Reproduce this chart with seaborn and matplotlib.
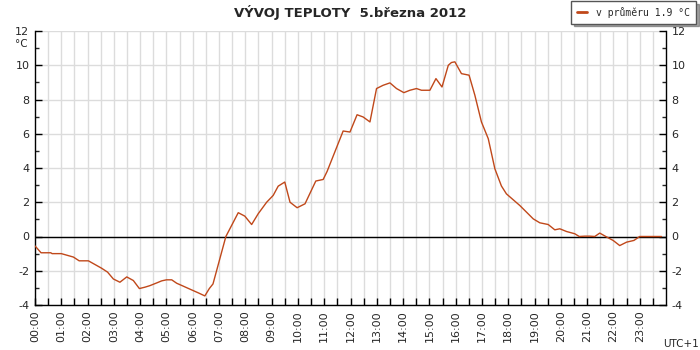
import numpy as np
import pandas as pd
import matplotlib
matplotlib.use("Agg")
import matplotlib.pyplot as plt
import seaborn as sns

# ---- data (hours since midnight, temperature in °C) ----
hours = [0.0, 0.23, 0.6, 0.65, 1.0, 1.46, 1.68, 2.03, 2.53, 2.76, 2.98, 3.23, 3.49,
         3.74, 3.97, 4.18, 4.37, 4.63, 4.82, 5.0, 5.2, 5.39, 5.64, 5.96, 6.21, 6.46,
         6.63, 6.77, 7.26, 7.73, 7.98, 8.24, 8.49, 8.81, 9.06, 9.25, 9.5, 9.7, 9.97,
         10.27, 10.68, 10.96, 11.11, 11.72, 11.98, 12.25, 12.48, 12.74, 12.99, 13.24,
         13.5, 13.75, 14.03, 14.26, 14.51, 14.7, 15.02, 15.25, 15.48, 15.72, 15.84,
         15.97, 16.22, 16.51, 16.73, 16.98, 17.24, 17.49, 17.74, 17.93, 18.44, 18.95,
         19.2, 19.52, 19.77, 19.96, 20.22, 20.53, 20.7, 20.91, 21.1, 21.29, 21.48,
         21.71, 21.99, 22.24, 22.5, 22.78, 23.0, 23.83]
temps = [-0.55, -0.95, -0.95, -1.0, -1.0, -1.2, -1.42, -1.42, -1.85, -2.08, -2.48, -2.67, -2.36,
         -2.57, -3.04, -2.96, -2.87, -2.71, -2.59, -2.53, -2.53, -2.73, -2.9, -3.12, -3.29, -3.47,
         -3.04, -2.77, 0.0, 1.39, 1.19, 0.7, 1.33, 2.0, 2.4, 2.94, 3.18, 2.0, 1.68,
         1.91, 3.24, 3.33, 3.8, 6.16, 6.1, 7.11, 6.98, 6.69, 8.64, 8.83,
         8.97, 8.64, 8.4, 8.54, 8.64, 8.54, 8.54, 9.22, 8.73, 10.0, 10.16,
         10.2, 9.51, 9.42, 8.25, 6.69, 5.71, 3.96, 2.95, 2.49, 1.81, 1.03,
         0.8, 0.7, 0.39, 0.45, 0.29, 0.16, 0.0, 0.02, 0.02, 0.0, 0.2,
         0.0, -0.23, -0.53, -0.33, -0.23, 0.0, 0.0]
hour_labels = [f"{h:02d}:00" for h in range(24)]
y_labels = [-4, -2, 0, 2, 4, 6, 8, 10, 12]
title = "VÝVOJ TEPLOTY  5.března 2012"
legend_label = "v průměru 1.9 °C"

line_color = "#C0481A"

sns.set_style("white")
plt.rcParams["font.family"] = ["DejaVu Sans"]

df = pd.DataFrame({"hour": hours, "temp": temps})

fig = plt.figure(figsize=(7, 3.5), dpi=100)
ax = fig.add_axes([35 / 700, 1 - 305 / 350, 631 / 700, 274 / 350])

# grid
for xv in np.arange(0.5, 24, 0.5):
    ax.axvline(xv, color="#dcdcdc", lw=1, zorder=0)
for yv in y_labels:
    ax.axhline(yv, color="#dcdcdc", lw=1, zorder=0)
ax.axhline(0, color="black", lw=1, zorder=1)

sns.lineplot(data=df, x="hour", y="temp", ax=ax, color=line_color, lw=1,
             estimator=None, sort=False, zorder=3, label=legend_label, legend=False)

ax.set_xlim(0, 24)
ax.set_ylim(-4, 12)

xt = np.arange(0, 24, 0.5)
ax.set_xticks(xt)
ax.set_xticklabels([hour_labels[int(v)] if v == int(v) else "" for v in xt],
                   rotation=90, fontsize=8)
ax.set_yticks(y_labels)
ax.set_yticklabels([str(v) for v in y_labels], fontsize=8)
ax.set_yticks(np.arange(-3, 12, 2), minor=True)
ax.tick_params(axis="both", direction="in", length=5, width=1, color="black")
ax.tick_params(axis="y", which="major", left=True, right=True, labelleft=True, labelright=True, pad=4)
ax.tick_params(axis="y", which="minor", direction="in", left=True, right=True, length=3, width=1)
ax.tick_params(axis="x", bottom=True, pad=4)
ax.set_xlabel("")
ax.set_ylabel("")

for s in ["left", "bottom", "right"]:
    ax.spines[s].set_visible(True)
    ax.spines[s].set_color("black")
    ax.spines[s].set_linewidth(1)
ax.spines["top"].set_visible(False)

fig.text(350 / 700, 1 - 12 / 350, title, ha="center", va="center",
         fontsize=9.5, fontweight="bold")
fig.text(21 / 700, 1 - 44 / 350, "°C", ha="center", va="center", fontsize=7.5)
fig.text(699 / 700, 1 - 344 / 350, "UTC+1", ha="right", va="center", fontsize=7.5)

handles, labels = ax.get_legend_handles_labels()
leg = fig.legend(handles, labels, loc="upper right",
                 bbox_to_anchor=(696 / 700, 1 - 1 / 350),
                 prop={"family": "DejaVu Sans Mono", "size": 7},
                 frameon=True, fancybox=False, shadow=True, borderaxespad=0,
                 handlelength=1.1, handletextpad=0.9, borderpad=0.6)
leg.get_frame().set_edgecolor("#555555")
leg.get_frame().set_linewidth(1)
for l in leg.get_lines():
    l.set_linewidth(2)

fig.savefig("out.png", dpi=100)
